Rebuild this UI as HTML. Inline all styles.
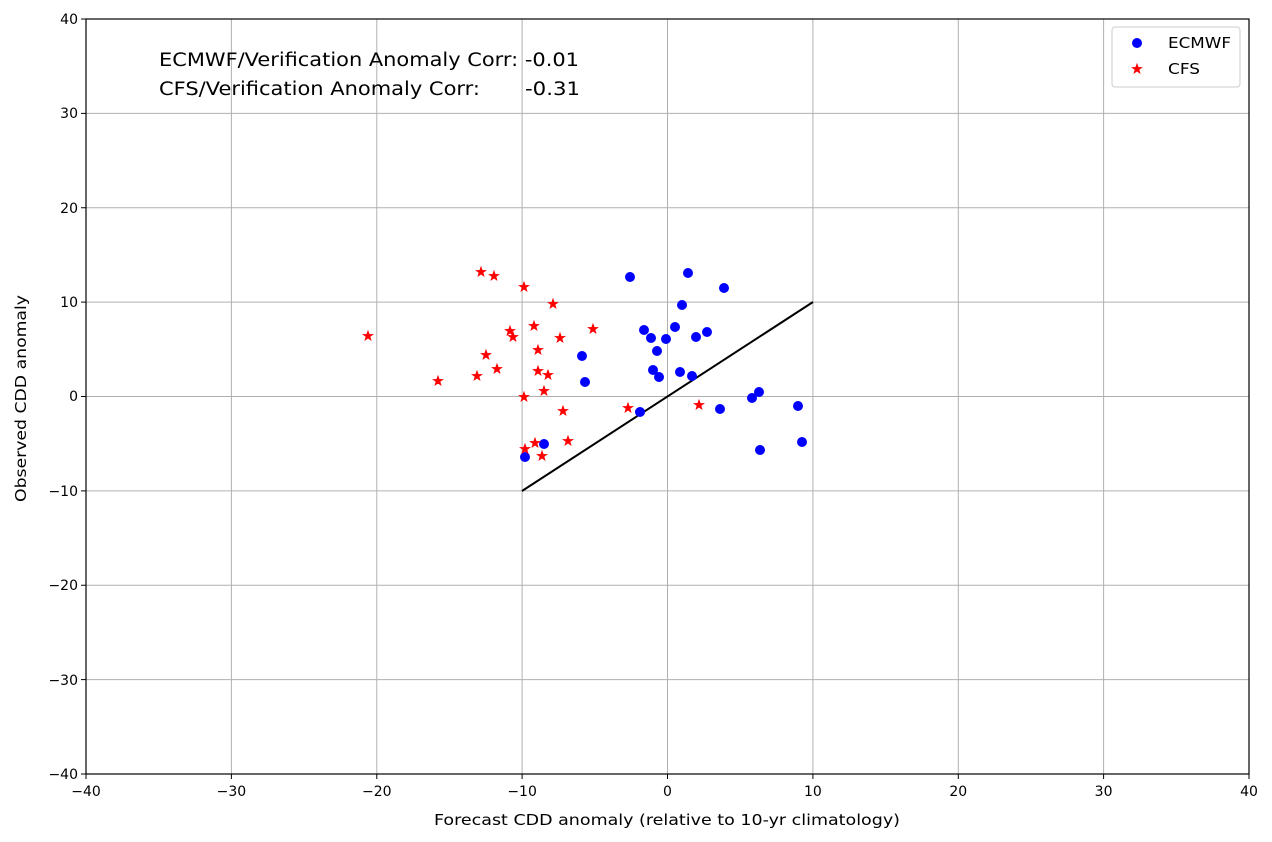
<!DOCTYPE html>
<html><head><style>body{margin:0;background:#fff}svg{display:block}text{font-family:"DejaVu Sans","Liberation Sans",sans-serif}</style></head><body>
<svg width="1272" height="842" xmlns="http://www.w3.org/2000/svg">
<defs>
<polygon id="st" points="0,-5 1.2,-1.6 4.8,-1.5 1.9,0.6 2.9,4 0,2 -2.9,4 -1.9,0.6 -4.8,-1.5 -1.2,-1.6" fill="#f00" stroke="#f00" stroke-width="0.8"/>
</defs>
<g stroke="#b0b0b0" stroke-width="1">
<line x1="231.4" y1="19" x2="231.4" y2="774"/><line x1="376.8" y1="19" x2="376.8" y2="774"/><line x1="522.1" y1="19" x2="522.1" y2="774"/><line x1="667.5" y1="19" x2="667.5" y2="774"/><line x1="812.9" y1="19" x2="812.9" y2="774"/><line x1="958.3" y1="19" x2="958.3" y2="774"/><line x1="1103.6" y1="19" x2="1103.6" y2="774"/>
<line x1="86" y1="113.4" x2="1249" y2="113.4"/><line x1="86" y1="207.75" x2="1249" y2="207.75"/><line x1="86" y1="302.1" x2="1249" y2="302.1"/><line x1="86" y1="396.5" x2="1249" y2="396.5"/><line x1="86" y1="490.9" x2="1249" y2="490.9"/><line x1="86" y1="585.25" x2="1249" y2="585.25"/><line x1="86" y1="679.6" x2="1249" y2="679.6"/>
</g>
<line x1="522" y1="491" x2="813" y2="302" stroke="#000" stroke-width="2"/>
<g fill="#00f">
<circle cx="630" cy="277" r="5"/><circle cx="688" cy="273" r="5"/><circle cx="724" cy="288" r="5"/><circle cx="682" cy="305" r="5"/><circle cx="644" cy="330" r="5"/><circle cx="651" cy="338" r="5"/><circle cx="675" cy="327" r="5"/><circle cx="707" cy="332" r="5"/><circle cx="666" cy="339" r="5"/><circle cx="657" cy="351" r="5"/><circle cx="696" cy="337" r="5"/><circle cx="582" cy="356" r="5"/><circle cx="653" cy="370" r="5"/><circle cx="659" cy="377" r="5"/><circle cx="680" cy="372" r="5"/><circle cx="692" cy="376" r="5"/><circle cx="585" cy="382" r="5"/><circle cx="640" cy="412" r="5"/><circle cx="720" cy="409" r="5"/><circle cx="752" cy="398" r="5"/><circle cx="759" cy="392" r="5"/><circle cx="798" cy="406" r="5"/><circle cx="802" cy="442" r="5"/><circle cx="760" cy="450" r="5"/><circle cx="525" cy="457" r="5"/><circle cx="544" cy="444" r="5"/>
</g>
<g>
<use href="#st" x="481" y="272"/><use href="#st" x="494" y="276"/><use href="#st" x="524" y="287"/><use href="#st" x="553" y="304"/><use href="#st" x="534" y="326"/><use href="#st" x="510" y="331"/><use href="#st" x="513" y="337"/><use href="#st" x="593" y="329"/><use href="#st" x="560" y="338"/><use href="#st" x="538" y="350"/><use href="#st" x="486" y="355"/><use href="#st" x="368" y="336"/><use href="#st" x="497" y="369"/><use href="#st" x="538" y="371"/><use href="#st" x="548" y="375"/><use href="#st" x="477" y="376"/><use href="#st" x="438" y="381"/><use href="#st" x="544" y="391"/><use href="#st" x="524" y="397"/><use href="#st" x="563" y="411"/><use href="#st" x="628" y="408"/><use href="#st" x="699" y="405"/><use href="#st" x="568" y="441"/><use href="#st" x="535" y="443"/><use href="#st" x="525" y="449"/><use href="#st" x="542" y="456"/>
</g>
<rect x="86" y="19" width="1163" height="755" fill="none" stroke="#000" stroke-width="1.2"/>
<g stroke="#000"><line x1="86" y1="774" x2="86" y2="779"/><line x1="231.4" y1="774" x2="231.4" y2="779"/><line x1="376.8" y1="774" x2="376.8" y2="779"/><line x1="522.1" y1="774" x2="522.1" y2="779"/><line x1="667.5" y1="774" x2="667.5" y2="779"/><line x1="812.9" y1="774" x2="812.9" y2="779"/><line x1="958.3" y1="774" x2="958.3" y2="779"/><line x1="1103.6" y1="774" x2="1103.6" y2="779"/><line x1="1249" y1="774" x2="1249" y2="779"/>
<line x1="81" y1="19" x2="86" y2="19"/><line x1="81" y1="113.4" x2="86" y2="113.4"/><line x1="81" y1="207.75" x2="86" y2="207.75"/><line x1="81" y1="302.1" x2="86" y2="302.1"/><line x1="81" y1="396.5" x2="86" y2="396.5"/><line x1="81" y1="490.9" x2="86" y2="490.9"/><line x1="81" y1="585.25" x2="86" y2="585.25"/><line x1="81" y1="679.6" x2="86" y2="679.6"/><line x1="81" y1="774" x2="86" y2="774"/></g>
<g font-size="14" text-anchor="middle" fill="#000">
<text x="86" y="796">−40</text><text x="231.4" y="796">−30</text><text x="376.8" y="796">−20</text><text x="522.1" y="796">−10</text><text x="667.5" y="796">0</text><text x="812.9" y="796">10</text><text x="958.3" y="796">20</text><text x="1103.6" y="796">30</text><text x="1249" y="796">40</text>
</g>
<g font-size="14" text-anchor="end" fill="#000">
<text x="78" y="24">40</text><text x="78" y="118">30</text><text x="78" y="213">20</text><text x="78" y="307">10</text><text x="78" y="401">0</text><text x="78" y="496">−10</text><text x="78" y="590">−20</text><text x="78" y="685">−30</text><text x="78" y="779">−40</text>
</g>
<text x="434" y="825" font-size="15" textLength="466" lengthAdjust="spacingAndGlyphs">Forecast CDD anomaly (relative to 10-yr climatology)</text>
<text transform="translate(26,502) rotate(-90)" font-size="15" textLength="207" lengthAdjust="spacingAndGlyphs">Observed CDD anomaly</text>
<text x="159" y="66" font-size="18.5" textLength="420" lengthAdjust="spacingAndGlyphs">ECMWF/Verification Anomaly Corr: -0.01</text>
<text x="159" y="95" font-size="18.5" textLength="321" lengthAdjust="spacingAndGlyphs">CFS/Verification Anomaly Corr:</text><text x="525" y="95" font-size="18.5" textLength="55" lengthAdjust="spacingAndGlyphs">-0.31</text>
<rect x="1112" y="27" width="128" height="60" rx="3" fill="#fff" stroke="#ccc"/>
<circle cx="1137" cy="43" r="5" fill="#00f"/><text x="1168" y="48" font-size="15" textLength="63" lengthAdjust="spacingAndGlyphs">ECMWF</text>
<use href="#st" x="1137" y="69"/><text x="1168" y="74" font-size="15" textLength="32" lengthAdjust="spacingAndGlyphs">CFS</text>
</svg>
</body></html>
